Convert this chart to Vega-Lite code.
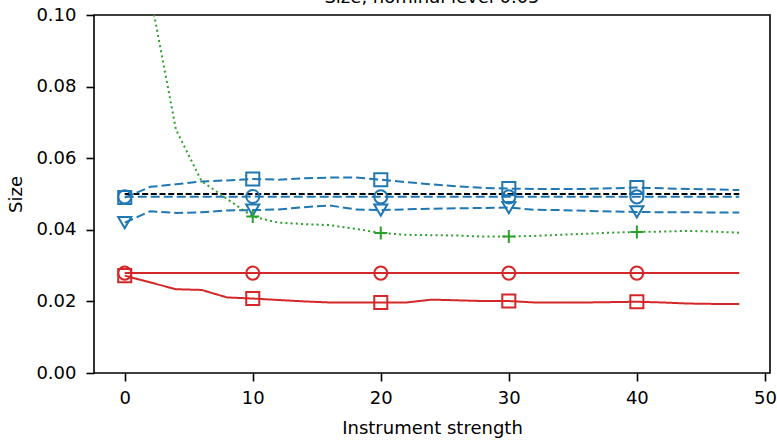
{
  "$schema": "https://vega.github.io/schema/vega-lite/v6.json",
  "autosize": "none",
  "width": 676,
  "height": 358,
  "padding": {"left": 94, "top": 15, "right": 7, "bottom": 67},
  "background": "white",
  "title": {
    "text": "Size, nominal level 0.05",
    "font": "DejaVu Sans",
    "fontSize": 18,
    "fontWeight": "normal",
    "color": "black",
    "anchor": "middle",
    "frame": "group",
    "baseline": "alphabetic",
    "offset": 0,
    "dy": 15
  },
  "config": {
    "view": {"stroke": "black", "strokeWidth": 1.6},
    "axis": {
      "domain": false,
      "grid": false,
      "labelFont": "DejaVu Sans",
      "labelFontSize": 18,
      "labelColor": "black",
      "titleFont": "DejaVu Sans",
      "titleFontSize": 18,
      "titleFontWeight": "normal",
      "titleColor": "black",
      "tickColor": "black",
      "tickWidth": 1.6,
      "tickSize": 8
    }
  },
  "data": {
    "values": [
      {"x": 0, "nom": 0.05, "sq": 0.0490, "ci": 0.0492, "tr": 0.0420, "pl": 0.2000, "rc": 0.0279, "rs": 0.0272},
      {"x": 2, "nom": 0.05, "sq": 0.0520, "ci": 0.0492, "tr": 0.0452, "pl": 0.1056, "rc": 0.0279, "rs": 0.0253},
      {"x": 4, "nom": 0.05, "sq": 0.0527, "ci": 0.0492, "tr": 0.0447, "pl": 0.0680, "rc": 0.0279, "rs": 0.0234},
      {"x": 6, "nom": 0.05, "sq": 0.0535, "ci": 0.0492, "tr": 0.0449, "pl": 0.0536, "rc": 0.0279, "rs": 0.0232},
      {"x": 8, "nom": 0.05, "sq": 0.0538, "ci": 0.0492, "tr": 0.0454, "pl": 0.0486, "rc": 0.0279, "rs": 0.0211},
      {"x": 10, "nom": 0.05, "sq": 0.0542, "ci": 0.0493, "tr": 0.0455, "pl": 0.0437, "rc": 0.0279, "rs": 0.0208},
      {"x": 12, "nom": 0.05, "sq": 0.0540, "ci": 0.0492, "tr": 0.0457, "pl": 0.0420, "rc": 0.0279, "rs": 0.0204},
      {"x": 14, "nom": 0.05, "sq": 0.0544, "ci": 0.0492, "tr": 0.0463, "pl": 0.0416, "rc": 0.0279, "rs": 0.0200},
      {"x": 16, "nom": 0.05, "sq": 0.0546, "ci": 0.0492, "tr": 0.0468, "pl": 0.0413, "rc": 0.0279, "rs": 0.0197},
      {"x": 18, "nom": 0.05, "sq": 0.0546, "ci": 0.0492, "tr": 0.0457, "pl": 0.0403, "rc": 0.0279, "rs": 0.0197},
      {"x": 20, "nom": 0.05, "sq": 0.0540, "ci": 0.0492, "tr": 0.0455, "pl": 0.0391, "rc": 0.0279, "rs": 0.0197},
      {"x": 22, "nom": 0.05, "sq": 0.0533, "ci": 0.0492, "tr": 0.0457, "pl": 0.0386, "rc": 0.0279, "rs": 0.0197},
      {"x": 24, "nom": 0.05, "sq": 0.0527, "ci": 0.0492, "tr": 0.0459, "pl": 0.0385, "rc": 0.0279, "rs": 0.0205},
      {"x": 26, "nom": 0.05, "sq": 0.0521, "ci": 0.0492, "tr": 0.0460, "pl": 0.0384, "rc": 0.0279, "rs": 0.0203},
      {"x": 28, "nom": 0.05, "sq": 0.0517, "ci": 0.0492, "tr": 0.0461, "pl": 0.0381, "rc": 0.0279, "rs": 0.0201},
      {"x": 30, "nom": 0.05, "sq": 0.0515, "ci": 0.0492, "tr": 0.0462, "pl": 0.0381, "rc": 0.0279, "rs": 0.0201},
      {"x": 32, "nom": 0.05, "sq": 0.0514, "ci": 0.0492, "tr": 0.0456, "pl": 0.0383, "rc": 0.0279, "rs": 0.0197},
      {"x": 34, "nom": 0.05, "sq": 0.0514, "ci": 0.0492, "tr": 0.0455, "pl": 0.0386, "rc": 0.0279, "rs": 0.0197},
      {"x": 36, "nom": 0.05, "sq": 0.0514, "ci": 0.0492, "tr": 0.0453, "pl": 0.0389, "rc": 0.0279, "rs": 0.0197},
      {"x": 38, "nom": 0.05, "sq": 0.0516, "ci": 0.0492, "tr": 0.0451, "pl": 0.0392, "rc": 0.0279, "rs": 0.0198},
      {"x": 40, "nom": 0.05, "sq": 0.0518, "ci": 0.0492, "tr": 0.0450, "pl": 0.0394, "rc": 0.0279, "rs": 0.0199},
      {"x": 42, "nom": 0.05, "sq": 0.0516, "ci": 0.0492, "tr": 0.0449, "pl": 0.0395, "rc": 0.0279, "rs": 0.0197},
      {"x": 44, "nom": 0.05, "sq": 0.0514, "ci": 0.0492, "tr": 0.0449, "pl": 0.0397, "rc": 0.0279, "rs": 0.0194},
      {"x": 46, "nom": 0.05, "sq": 0.0513, "ci": 0.0492, "tr": 0.0448, "pl": 0.0395, "rc": 0.0279, "rs": 0.0193},
      {"x": 48, "nom": 0.05, "sq": 0.0511, "ci": 0.0492, "tr": 0.0448, "pl": 0.0392, "rc": 0.0279, "rs": 0.0193}
    ]
  },
  "transform": [
    {"fold": ["nom", "sq", "ci", "tr", "pl", "rc", "rs"], "as": ["s", "y"]}
  ],
  "encoding": {
    "x": {
      "field": "x",
      "type": "quantitative",
      "scale": {"domain": [-2.4, 50.4], "nice": false, "zero": false},
      "axis": {"values": [0, 10, 20, 30, 40, 50], "title": "Instrument strength", "labelPadding": 8, "titlePadding": 12}
    },
    "y": {
      "field": "y",
      "type": "quantitative",
      "scale": {"domain": [0, 0.1], "nice": false},
      "axis": {"values": [0, 0.02, 0.04, 0.06, 0.08, 0.1], "format": ".2f", "title": "Size", "labelPadding": 10, "titlePadding": 10}
    },
    "color": {
      "field": "s",
      "type": "nominal",
      "legend": null,
      "scale": {
        "domain": ["nom", "sq", "ci", "tr", "pl", "rc", "rs"],
        "range": ["#000000", "#1f77b4", "#1f77b4", "#1f77b4", "#2ca02c", "#d62728", "#d62728"]
      }
    }
  },
  "layer": [
    {
      "mark": {"type": "line", "strokeWidth": 2, "clip": true},
      "encoding": {
        "strokeDash": {
          "field": "s",
          "type": "nominal",
          "legend": null,
          "scale": {
            "domain": ["nom", "sq", "ci", "tr", "pl", "rc", "rs"],
            "range": [[6, 2.7], [9, 4], [9, 4], [9, 4], [2, 3.2], [1, 0], [1, 0]]
          }
        }
      }
    },
    {
      "transform": [{"filter": "datum.x % 10 == 0 && datum.s != 'nom'"}],
      "mark": {"type": "point", "filled": false, "strokeWidth": 2, "size": 170, "clip": true, "opacity": 1},
      "encoding": {
        "shape": {
          "field": "s",
          "type": "nominal",
          "legend": null,
          "scale": {
            "domain": ["sq", "ci", "tr", "pl", "rc", "rs"],
            "range": ["square", "circle", "triangle-down", "M-1,0L1,0M0,-1L0,1", "circle", "square"]
          }
        }
      }
    }
  ]
}
